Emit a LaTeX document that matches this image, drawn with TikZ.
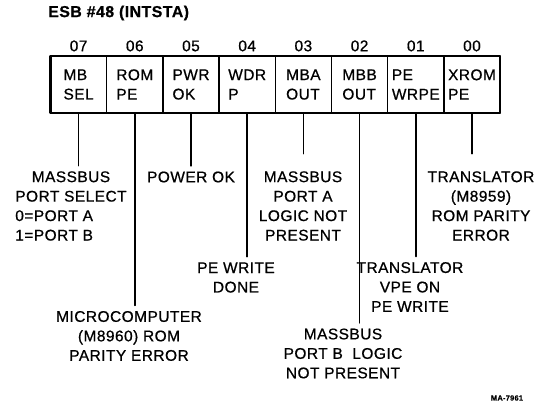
\documentclass[tikz,border=0pt]{standalone}
\usepackage{fontspec}
\setmainfont{Liberation Sans}[LetterSpace=3, FakeBold=0.7]
\newlength\selw
\tikzset{
  cell/.style={draw, line width=1.1pt, minimum width=42.2pt, minimum height=42.6pt,
    inner sep=0pt, outer sep=0pt, align=left},
  lbl/.style={align=center, inner sep=4pt},
  conn/.style={line width=1.1pt}
}
\begin{document}
\settowidth{\selw}{\fontsize{11.6}{14.6}\selectfont PORT SELECT}%
\begin{tikzpicture}[x=0.75pt, y=-0.75pt, font=\fontsize{11.6}{14.6}\selectfont, line join=round, line cap=round]
  \useasboundingbox (0,0) rectangle (544,409);
  % title
  \node[anchor=west, inner sep=0pt, font=\bfseries\fontsize{11.9}{13}\selectfont] (title) at (48,13) {ESB \#48 (INTSTA)};
  % register cells and bit numbers
  \foreach \b/\t [count=\i from 0] in {07/{MB\\SEL},06/{ROM\\PE},05/{PWR\\OK},04/{WDR\\P},03/{MBA\\OUT},02/{MBB\\OUT},01/{PE\\WRPE},00/{XROM\\PE}}{
    \node[cell] (b\b) at ({78.6+56.2*\i},84.5) {\t};
    \node[anchor=south] (n\b) at (b\b.north) {\b};
  }
  \draw[line width=1.7pt] (b07.north west) rectangle (b00.south east);
  % descriptions
  \node[lbl, anchor=west] (l07) at (9.7,206) {MASSBUS\\PORT SELECT\\\makebox[\selw][l]{0=PORT A}\\\makebox[\selw][l]{1=PORT B}};
  \node[lbl] (l06) at (129,336) {MICROCOMPUTER\\(M8960) ROM\\PARITY ERROR};
  \node[lbl] (l05) at (191,177) {POWER OK};
  \node[lbl] (l04) at (236,277.5) {PE WRITE\\DONE};
  \node[lbl] (l03) at (303,206) {MASSBUS\\PORT A\\LOGIC NOT\\PRESENT};
  \node[lbl] (l02) at (343,353.5) {MASSBUS\\PORT B\ \ LOGIC\\NOT PRESENT};
  \node[lbl] (l01) at (410,287) {TRANSLATOR\\VPE ON\\PE WRITE};
  \node[lbl] (l00) at (481,206) {TRANSLATOR\\(M8959)\\ROM PARITY\\ERROR};
  % connectors
  \foreach \b in {07,06,05,04,02,01}
    \draw[conn] (b\b.south) -- (b\b.south |- l\b.north);
  \foreach \b in {03,00}
    \draw[conn, shorten >=9pt] (b\b.south) -- (b\b.south |- l\b.north);
  \node[font=\bfseries\fontsize{5.6}{6}\selectfont] (ma) at (507,398) {MA-7961};
\end{tikzpicture}
\end{document}
